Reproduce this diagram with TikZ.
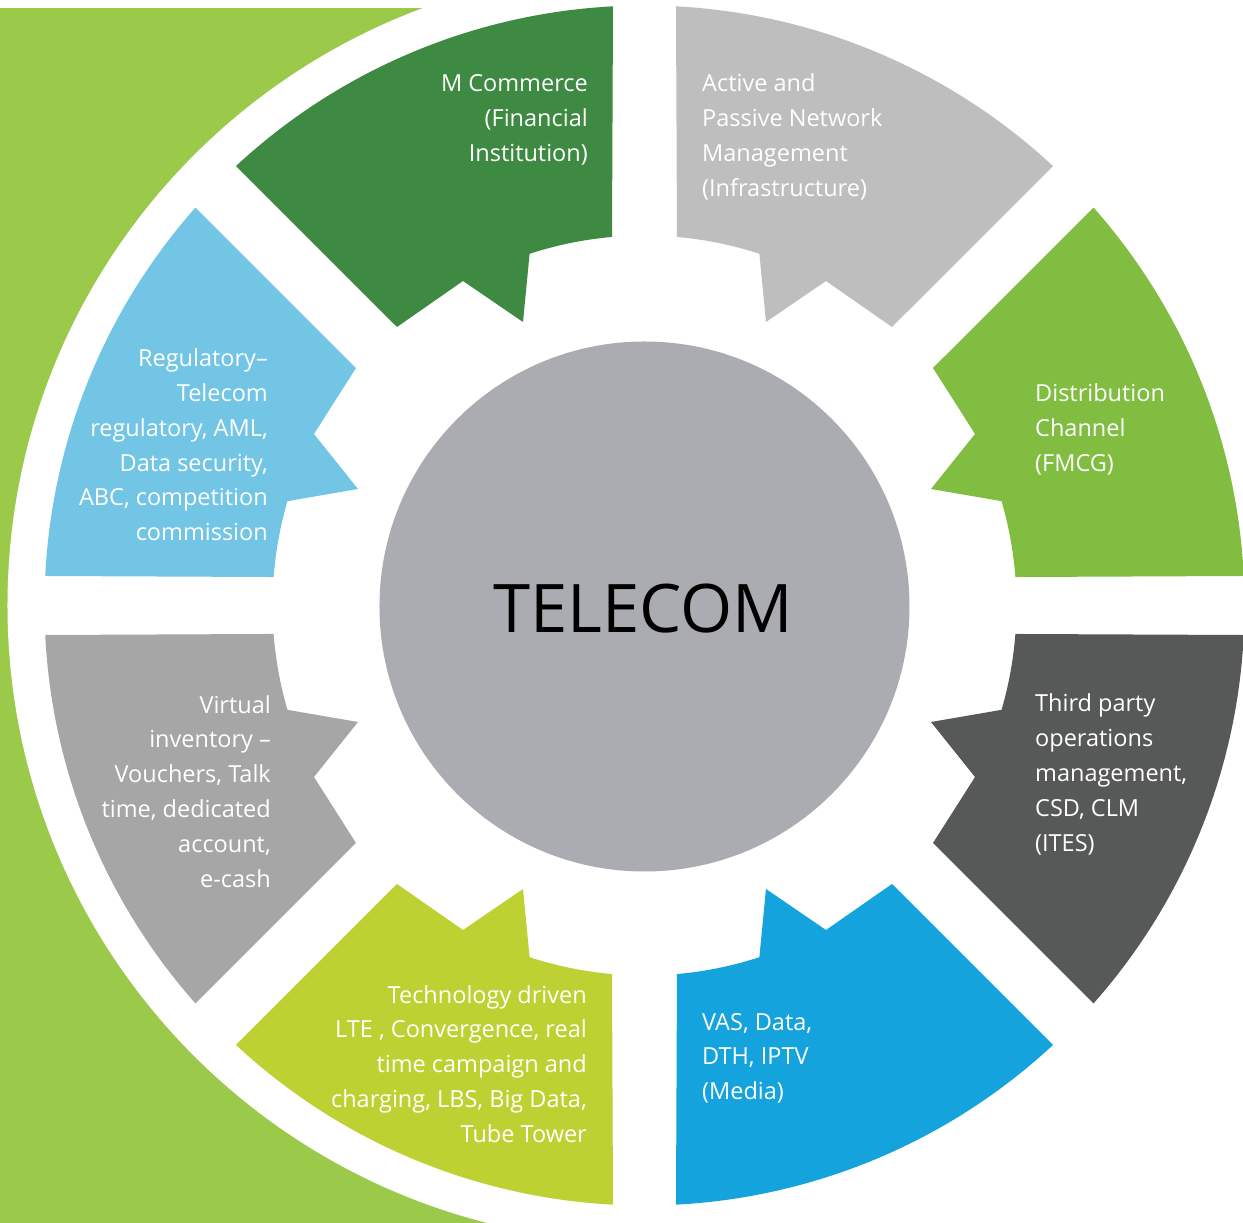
\documentclass[tikz,border=0pt]{standalone}
\usepackage{fontspec}
\setmainfont{Open Sans}
\definecolor{bggreen}{HTML}{9BCA4B}
\definecolor{mcom}{HTML}{3F8A42}
\definecolor{activegray}{HTML}{BEBEBE}
\definecolor{distgreen}{HTML}{80BD41}
\definecolor{thirdgray}{HTML}{575958}
\definecolor{vasblue}{HTML}{14A3DC}
\definecolor{techgreen}{HTML}{BDD232}
\definecolor{virtgray}{HTML}{A6A6A6}
\definecolor{regblue}{HTML}{73C5E6}
\definecolor{hubgray}{HTML}{ABACB1}
\newcommand\segApath{(93.01:600) -- (95.04:370) arc[start angle=95.04, end angle=108.09, radius=370] -- (-121.5,283.5) -- (-181.5,324.5) -- (-247.5,278.5) -- (132.91:600) arc[start angle=132.91, end angle=93.01, radius=600] -- cycle}
\newcommand\segBpath{(177.18:600) -- (175.61:372) arc[start angle=175.61, end angle=163.71, radius=372] -- (-286.5,116.5) -- (-330.5,171.5) -- (-288.5,237.5) -- (138.45:600) arc[start angle=138.45, end angle=177.18, radius=600] -- cycle}
\begin{document}
\begin{tikzpicture}[x=1pt,y=1pt,
  segtext/.style={text=white, inner sep=0pt, font=\fontsize{23.5}{34.8}\selectfont},
  rtext/.style={segtext, anchor=base east, align=right},
  ltext/.style={segtext, anchor=base west, align=left}]
\useasboundingbox (-644.5,-617.5) rectangle (598.5,605.5);
% background
\fill[bggreen] (-644.5,597.5) rectangle (0,-617.5);
\fill[white] (0,0) circle[radius=637];
% top-left quadrant
\fill[mcom] \segApath;
\fill[regblue] \segBpath;
% top-right quadrant
\begin{scope}[xscale=-1]
\fill[activegray] \segApath;
\fill[distgreen] \segBpath;
\end{scope}
% bottom-left quadrant
\begin{scope}[yscale=-1]
\fill[techgreen] \segApath;
\fill[virtgray] \segBpath;
\end{scope}
% bottom-right quadrant
\begin{scope}[xscale=-1,yscale=-1]
\fill[vasblue] \segApath;
\fill[thirdgray] \segBpath;
\end{scope}
% hub
\node[circle, fill=hubgray, minimum size=530pt, inner sep=0pt] (hub) at (0,-1) {};
\node[anchor=base, inner sep=0pt, font=\fontsize{67}{70}\selectfont] (telecom) at (-1.5,-27.5) {TELECOM};
% labels (anchor = baseline of last line)
\node[rtext] (mcomt) at (-56.5,443.9) {M Commerce\\(Financial\\Institution)};
\node[ltext] (activet) at (57.5,409.1) {Active and\\Passive Network\\Management\\(Infrastructure)};
\node[rtext] (regt) at (-376.5,64.7) {Regulatory–\\Telecom\\regulatory, AML,\\Data security,\\ABC, competition\\commission};
\node[ltext] (distt) at (390.5,134.4) {Distribution\\Channel\\(FMCG)};
\node[rtext] (virtt) at (-373.5,-281.5) {Virtual\\inventory –\\Vouchers, Talk\\time, dedicated\\account,\\e-cash};
\node[ltext] (thirdt) at (390.5,-245.7) {Third party\\operations\\management,\\CSD, CLM\\(ITES)};
\node[rtext] (techt) at (-57.5,-536.7) {Technology driven\\LTE , Convergence, real\\time campaign and\\charging, LBS, Big Data,\\Tube Tower};
\node[ltext] (vast) at (57.5,-494.1) {VAS, Data,\\DTH, IPTV\\(Media)};
\end{tikzpicture}
\end{document}
